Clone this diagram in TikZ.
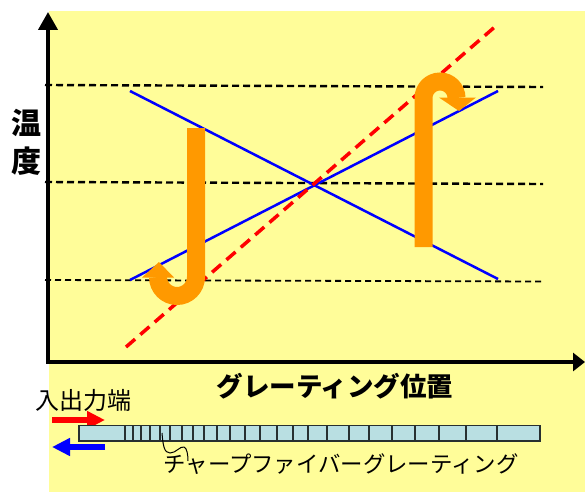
\documentclass[tikz,border=0pt]{standalone}
\usepackage{fontspec}
\newfontfamily\jp{Noto Sans CJK JP}
\usetikzlibrary{arrows.meta}
\definecolor{bgyellow}{RGB}{255,253,153}
\definecolor{hookorange}{RGB}{255,153,0}
\definecolor{gratingblue}{RGB}{185,223,226}
\definecolor{gratingedge}{RGB}{40,48,48}
\begin{document}
\begin{tikzpicture}[x=1pt,y=-1pt,
  guide/.style={black, dash pattern=on 7pt off 4pt, line width=2.4pt},
  guidethin/.style={black, dash pattern=on 6pt off 4pt, line width=1.8pt},
  profile/.style={blue, line width=2.5pt},
  refline/.style={red, dash pattern=on 12pt off 7pt, line width=3.5pt},
  hook/.style={hookorange, line width=18pt},
  axis/.style={black, line width=4pt},
  smallarrow/.style={line width=5.5pt, -{Triangle[length=18pt,width=17pt]}},
  jplabel/.style={inner sep=0pt, text=black},
]
\useasboundingbox (0,0) rectangle (585,492);
\fill[bgyellow] (49,11) rectangle (585,492);

% horizontal dashed guides
\coordinate (g1a) at (45,85);  \coordinate (g1b) at (543,87);
\coordinate (g2a) at (45,182); \coordinate (g2b) at (543,184);
\coordinate (g3a) at (45,280); \coordinate (g3b) at (543,281.5);
\draw[guide] (g1a) -- (g1b);
\draw[guide] (g2a) -- (g2b);
\draw[guidethin] (g3a) -- (g3b);

% blue temperature profiles
\coordinate (p1a) at (130,91);  \coordinate (p1b) at (498,279);
\coordinate (p2a) at (130,280); \coordinate (p2b) at (498,91);
\draw[profile] (p1a) -- (p1b);
\draw[profile] (p2a) -- (p2b);

% red dashed reference line
\coordinate (ra) at (126,347); \coordinate (rb) at (497,25);
\draw[refline] (ra) -- (rb);

% orange hook arrows
\draw[hook] (196,128) -- (196,277) arc[start angle=0,end angle=-180,radius=19pt];
\fill[hookorange] (142,277.5) -- (174,277.5) -- (159,262) -- cycle;
\draw[hook] (423.5,247) -- (423.5,98) arc[start angle=180,end angle=0,radius=16.5pt];
\fill[hookorange] (439,97.5) -- (476,97.5) -- (459,111) -- cycle;

% axes
\coordinate (origin) at (48,362);
\coordinate (ytip) at (48,12);
\coordinate (xtip) at (585,362);
\draw[axis, -{Triangle[length=18pt,width=19pt]}] (origin) -- (ytip);
\draw[axis, -{Triangle[length=12pt,width=18pt]}] (46,362) -- (xtip);

% axis labels
\node[jplabel, align=center, font=\jp\bfseries\fontsize{30}{38}\selectfont] (tlabel) at (27,142)
  {温\\度};
\node[jplabel, font=\jp\bfseries\fontsize{26.5}{30}\selectfont] (xlabel) at (335,386)
  {グレーティング位置};

% input/output
\node[jplabel, font=\jp\fontsize{24}{28}\selectfont] (iolabel) at (83,400)
  {入出力端};
\coordinate (ra1) at (52,420); \coordinate (ra2) at (105,420);
\coordinate (ba1) at (105,447); \coordinate (ba2) at (52,447);
\draw[smallarrow, red] (ra1) -- (ra2);
\draw[smallarrow, blue] (ba1) -- (ba2);

% chirped grating
\draw[fill=gratingblue, draw=gratingedge, line width=1.4pt] (79,425.5) rectangle (540,441);
\foreach \gx in {125,133,141,150,160,170,182,193,204,217,230,245,260,277,293,308,327,349,369,392,415,439,466,497}
  \draw[gratingedge, line width=1.4pt] (\gx,425.5) -- (\gx,441);

\node[jplabel, font=\jp\fontsize{22.4}{26}\selectfont] (glabel) at (341,464)
  {チャープファイバーグレーティング};
\coordinate (sqstart) at (162,433);
\coordinate (sqend) at (188,461);
\draw[black, line width=1pt] (sqstart) .. controls (163,445) and (164,453) .. (170,453)
  .. controls (176,453) and (180,446) .. (184,447)
  .. controls (187,448) and (188,455) .. (sqend);
\end{tikzpicture}
\end{document}
